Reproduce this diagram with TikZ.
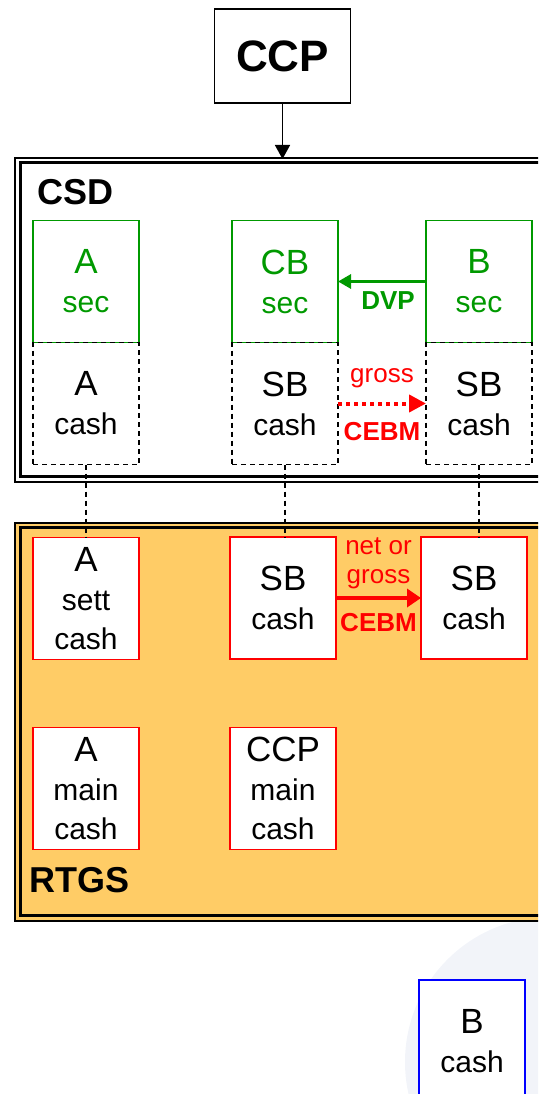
\documentclass[tikz,border=0pt]{standalone}
\usepackage{fontspec}
\setmainfont{Liberation Sans}
\usetikzlibrary{positioning,arrows.meta}

\definecolor{secgreen}{RGB}{0,153,0}
\definecolor{rtgsorange}{RGB}{255,204,102}
\definecolor{swoosh}{RGB}{242,244,249}
\newcommand{\topln}[1]{{\fontsize{35}{39}\selectfont #1}}

\begin{document}
\begin{tikzpicture}
  [x=1pt, y=-1pt, node distance=0pt,
   acct/.style={draw, fill=white, outer sep=0pt, inner sep=0pt, align=center,
                minimum width=106pt, minimum height=122pt, font=\fontsize{30}{39}\selectfont},
   secbox/.style={acct, draw=secgreen, text=secgreen, line width=1.4pt},
   cashbox/.style={acct, line width=1.3pt, dash pattern=on 5pt off 4pt},
   rtbox/.style={acct, draw=red, line width=1.6pt},
   title/.style={font=\fontsize{36}{40}\selectfont\bfseries, anchor=west},
   flow/.style={font=\fontsize{26}{29}\selectfont, align=center, inner sep=2pt}]

  \useasboundingbox (0,0) rectangle (538,1094);
  \clip (0,0) rectangle (538,1094);

  % background swoosh
  \fill[swoosh] (550,1062) circle (145);

  % CSD frame
  \draw[line width=1.5pt] (15,158) rectangle (560,482);
  \draw[line width=3pt] (20,163) rectangle (560,476);
  % RTGS frame
  \draw[line width=1.5pt, fill=rtgsorange] (15,523) rectangle (560,921);
  \draw[line width=3pt] (20,527) rectangle (560,915);

  \node[draw, line width=1.2pt, fill=white, minimum width=136pt, minimum height=94pt,
        font=\fontsize{44}{48}\selectfont\bfseries] (ccp) at (282.5,56) {CCP};
  \coordinate (csdtop) at (282.5,159);

  \node[title] (csd) at (34,192) {CSD};
  \node[title] (rtgs) at (26,880) {RTGS};

  % securities and cash accounts in the CSD
  \node[secbox] (asec) at (86,281.5) {\topln{A}\\sec};
  \node[secbox] (cbsec) at (285,281.5) {\topln{CB}\\sec};
  \node[secbox] (bsec) at (479,281.5) {\topln{B}\\sec};
  \node[cashbox, below=of asec] (acash) {\topln{A}\\cash};
  \node[cashbox, below=of cbsec] (sbcash) {\topln{SB}\\cash};
  \node[cashbox, below=of bsec] (bcash) {\topln{SB}\\cash};

  % cash accounts in the RTGS
  \node[rtbox] (asett) at (86,598.5) {\topln{A}\\sett\\cash};
  \node[rtbox] (sbrt) at (283,598) {\topln{SB}\\cash};
  \node[rtbox] (sbrtb) at (474,598) {\topln{SB}\\cash};
  \node[rtbox] (amain) at (86,788.5) {\topln{A}\\main\\cash};
  \node[rtbox] (ccpmain) at (283,788.5) {\topln{CCP}\\main\\cash};

  \node[acct, draw=blue, line width=1.6pt] (bown) at (472,1041) {\topln{B}\\cash};

  \draw[line width=1.5pt, -{Triangle[length=14pt,width=15pt]}] (ccp.south) -- (csdtop);

  \draw[secgreen, line width=3pt, -{Triangle[length=13pt,width=14pt]}] (bsec.west) --
    node[flow, below=7pt, xshift=6pt, font=\fontsize{26}{29}\selectfont\bfseries] (dvp) {DVP} (cbsec.east);

  \draw[red, line width=4pt, dash pattern=on 4pt off 4pt, -{Triangle[length=17pt,width=17pt]}] (sbcash.east) --
    node[flow, above=12pt] (grs) {gross}
    node[flow, below=15pt, font=\fontsize{26}{29}\selectfont\bfseries] (cebm) {CEBM} (bcash.west);

  \draw[red, line width=4pt, -{Triangle[length=14pt,width=18pt]}] (sbrt.east) --
    node[flow, above=5pt] (netgrs) {net or\\gross}
    node[flow, below=11pt, font=\fontsize{26}{29}\selectfont\bfseries] (cebmrt) {CEBM} (sbrtb.west);

  % links between CSD and RTGS cash
  \draw[line width=1.3pt, dash pattern=on 5pt off 4pt] (acash.south) -- (asett.north);
  \draw[line width=1.3pt, dash pattern=on 5pt off 4pt] (sbcash.south) -- (sbcash.south |- sbrt.north);
  \draw[line width=1.3pt, dash pattern=on 5pt off 4pt] (bcash.south) -- (bcash.south |- sbrtb.north);
\end{tikzpicture}
\end{document}
